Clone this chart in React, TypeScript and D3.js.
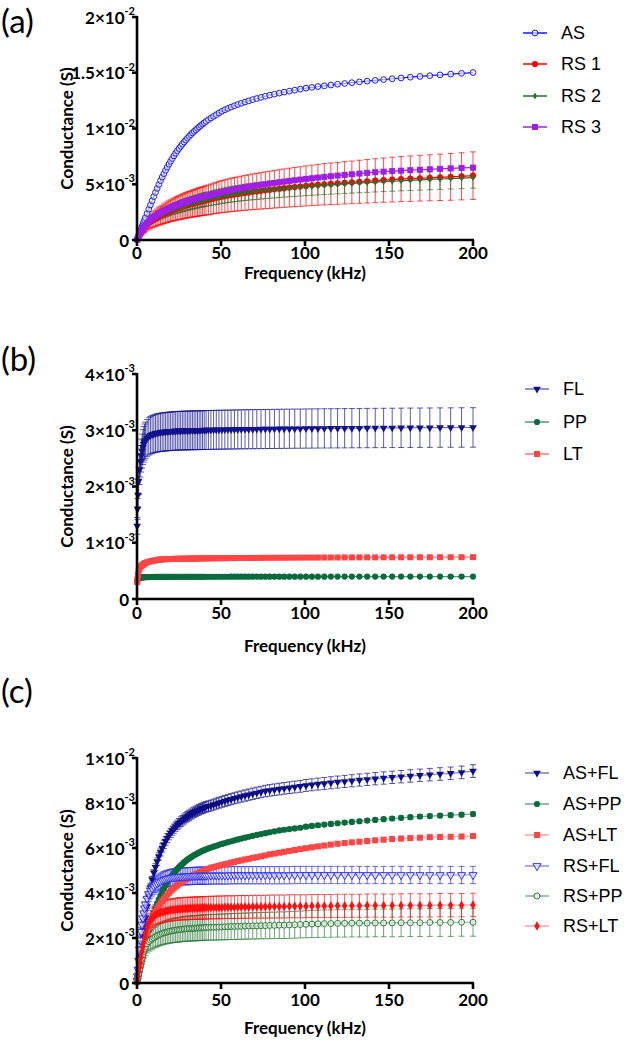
import React from 'react';
import * as d3 from 'd3';

// Frequency (kHz)
const FREQ = [0.1, 0.3, 0.6, 1, 1.5, 2, 2.5, 3, 3.5, 4,
  4.5, 5, 6, 7, 8, 9, 10, 11, 12, 13,
  14, 15, 16, 17, 18, 19, 20, 21, 22, 23,
  24, 25, 26, 27, 28, 29, 30, 31, 32, 33,
  34, 35, 36, 37, 38, 39, 40,
  41.1, 42.5, 44, 45.6, 47.2, 48.8, 50.5, 52.3, 54.1, 56,
  58, 60, 62.1, 64.3, 66.5, 68.9, 71.3, 73.8, 76.4, 79,
  81.8, 84.7, 87.6, 90.7, 93.9, 97.2, 100.6, 104.1, 107.7, 111.5,
  115.4, 119.4, 123.6, 127.9, 132.4, 137, 141.8, 146.8, 151.9, 157.2,
  162.7, 168.4, 174.3, 180.4, 186.7, 193.2, 200];

// Conductance values in mS (x10^-3 S)
const AS = [0.04, 0.12, 0.24, 0.4, 0.6, 0.8, 1.0, 1.2, 1.4, 1.6,
  1.8, 2.0, 2.38, 2.76, 3.14, 3.52, 3.9, 4.27, 4.63, 4.98,
  5.32, 5.64, 5.95, 6.25, 6.53, 6.8, 7.06, 7.31, 7.55, 7.78,
  8.0, 8.21, 8.41, 8.6, 8.78, 8.96, 9.13, 9.29, 9.45, 9.6,
  9.74, 9.88, 10.01, 10.14, 10.27, 10.39, 10.51,
  10.64, 10.79, 10.94, 11.09, 11.24, 11.39, 11.54, 11.68, 11.8, 11.92,
  12.04, 12.15, 12.26, 12.37, 12.48, 12.59, 12.69, 12.79, 12.89, 12.99,
  13.08, 13.17, 13.26, 13.35, 13.44, 13.53, 13.62, 13.69, 13.76, 13.83,
  13.9, 13.97, 14.04, 14.11, 14.18, 14.25, 14.32, 14.39, 14.46, 14.53,
  14.6, 14.67, 14.74, 14.81, 14.88, 14.95, 15.02];
const RS1 = [0.03, 0.1, 0.2, 0.32, 0.46, 0.6, 0.72, 0.84, 0.96, 1.06,
  1.15, 1.24, 1.4, 1.54, 1.66, 1.76, 1.85, 1.94, 2.03, 2.11,
  2.19, 2.27, 2.35, 2.42, 2.49, 2.56, 2.62, 2.68, 2.74, 2.8,
  2.85, 2.9, 2.95, 3.0, 3.05, 3.1, 3.14, 3.18, 3.22, 3.26,
  3.3, 3.34, 3.38, 3.42, 3.45, 3.48, 3.52,
  3.55, 3.6, 3.66, 3.72, 3.78, 3.84, 3.89, 3.94, 3.99, 4.04,
  4.09, 4.13, 4.18, 4.23, 4.27, 4.32, 4.36, 4.41, 4.46, 4.5,
  4.55, 4.6, 4.65, 4.7, 4.75, 4.8, 4.85, 4.9, 4.95, 5.0,
  5.04, 5.08, 5.13, 5.17, 5.22, 5.27, 5.32, 5.37, 5.42, 5.46,
  5.5, 5.54, 5.58, 5.62, 5.66, 5.71, 5.77];
const RS2 = [0.03, 0.1, 0.2, 0.32, 0.48, 0.64, 0.76, 0.88, 0.99, 1.1,
  1.2, 1.3, 1.47, 1.62, 1.75, 1.85, 1.94, 2.03, 2.12, 2.2,
  2.28, 2.36, 2.43, 2.5, 2.57, 2.64, 2.7, 2.76, 2.82, 2.87,
  2.92, 2.97, 3.02, 3.07, 3.12, 3.17, 3.22, 3.26, 3.3, 3.34,
  3.38, 3.42, 3.46, 3.5, 3.54, 3.57, 3.61,
  3.64, 3.69, 3.74, 3.79, 3.84, 3.89, 3.94, 3.99, 4.04, 4.09,
  4.14, 4.18, 4.23, 4.27, 4.31, 4.35, 4.39, 4.43, 4.47, 4.51,
  4.55, 4.59, 4.63, 4.67, 4.71, 4.75, 4.79, 4.83, 4.87, 4.91,
  4.95, 4.99, 5.03, 5.07, 5.11, 5.15, 5.19, 5.23, 5.27, 5.31,
  5.35, 5.39, 5.43, 5.47, 5.51, 5.55, 5.6];
const RS3 = [0.03, 0.1, 0.2, 0.33, 0.5, 0.66, 0.78, 0.9, 1.01, 1.12,
  1.23, 1.33, 1.52, 1.68, 1.82, 1.94, 2.05, 2.15, 2.25, 2.35,
  2.44, 2.53, 2.61, 2.69, 2.77, 2.84, 2.91, 2.97, 3.04, 3.1,
  3.16, 3.22, 3.28, 3.33, 3.38, 3.43, 3.48, 3.53, 3.58, 3.62,
  3.67, 3.71, 3.75, 3.79, 3.83, 3.87, 3.91,
  3.95, 4.0, 4.06, 4.12, 4.18, 4.24, 4.3, 4.36, 4.42, 4.48,
  4.54, 4.6, 4.66, 4.72, 4.78, 4.84, 4.9, 4.95, 5.0, 5.06,
  5.12, 5.18, 5.24, 5.3, 5.36, 5.42, 5.48, 5.54, 5.6, 5.66,
  5.72, 5.78, 5.84, 5.9, 5.96, 6.02, 6.08, 6.13, 6.18, 6.22,
  6.26, 6.3, 6.34, 6.38, 6.42, 6.46, 6.49];

const FL = [1.3, 1.6, 1.85, 2.1, 2.3, 2.45, 2.55, 2.63, 2.7, 2.75,
  2.79, 2.82, 2.86, 2.89, 2.91, 2.925, 2.935, 2.945, 2.952, 2.958,
  2.963, 2.967, 2.971, 2.974, 2.977, 2.98, 2.982, 2.984, 2.986, 2.988,
  2.99, 2.991, 2.992, 2.993, 2.994, 2.995, 2.996, 2.997, 2.998, 2.999,
  3.0, 3.0, 3.001, 3.001, 3.002, 3.002, 3.003,
  3.004, 3.005, 3.006, 3.007, 3.008, 3.009, 3.01, 3.011, 3.012, 3.013,
  3.014, 3.015, 3.016, 3.017, 3.018, 3.019, 3.02, 3.021, 3.022, 3.023,
  3.024, 3.025, 3.026, 3.027, 3.028, 3.029, 3.03, 3.031, 3.032, 3.033,
  3.034, 3.035, 3.036, 3.037, 3.038, 3.039, 3.04, 3.041, 3.042, 3.043,
  3.044, 3.045, 3.046, 3.047, 3.048, 3.049, 3.05];
const PP = [0.31, 0.34, 0.36, 0.37, 0.375, 0.38, 0.383, 0.385, 0.386, 0.387,
  0.388, 0.389, 0.39, 0.39, 0.391, 0.391, 0.392, 0.392, 0.392, 0.393,
  0.393, 0.393, 0.393, 0.394, 0.394, 0.394, 0.394, 0.394, 0.395, 0.395,
  0.395, 0.395, 0.395, 0.395, 0.395, 0.395, 0.395, 0.395, 0.395, 0.395,
  0.396, 0.396, 0.396, 0.396, 0.396, 0.396, 0.396,
  0.396, 0.396, 0.396, 0.396, 0.396, 0.396, 0.396, 0.396, 0.396, 0.397,
  0.397, 0.397, 0.397, 0.397, 0.397, 0.397, 0.397, 0.397, 0.397, 0.397,
  0.397, 0.397, 0.397, 0.397, 0.397, 0.397, 0.397, 0.397, 0.397, 0.397,
  0.398, 0.398, 0.398, 0.398, 0.398, 0.398, 0.398, 0.398, 0.398, 0.398,
  0.398, 0.398, 0.398, 0.398, 0.398, 0.398, 0.398];
const LT = [0.3, 0.36, 0.43, 0.5, 0.54, 0.57, 0.585, 0.6, 0.61, 0.62,
  0.63, 0.64, 0.652, 0.662, 0.67, 0.676, 0.682, 0.688, 0.694, 0.699,
  0.702, 0.705, 0.707, 0.708, 0.709, 0.71, 0.711, 0.712, 0.713, 0.714,
  0.714, 0.715, 0.715, 0.716, 0.716, 0.717, 0.717, 0.718, 0.718, 0.719,
  0.719, 0.72, 0.72, 0.721, 0.721, 0.722, 0.722,
  0.723, 0.723, 0.724, 0.724, 0.725, 0.725, 0.726, 0.726, 0.727, 0.727,
  0.728, 0.728, 0.729, 0.729, 0.73, 0.73, 0.731, 0.731, 0.732, 0.732,
  0.733, 0.733, 0.734, 0.734, 0.735, 0.735, 0.736, 0.736, 0.737, 0.737,
  0.738, 0.738, 0.739, 0.739, 0.74, 0.74, 0.74, 0.741, 0.741, 0.741,
  0.742, 0.742, 0.742, 0.743, 0.743, 0.743, 0.744];

const AS_FL = [0.06, 0.18, 0.36, 0.6, 0.9, 1.2, 1.5, 1.8, 2.08, 2.35,
  2.63, 2.9, 3.4, 3.85, 4.25, 4.6, 4.9, 5.15, 5.4, 5.62,
  5.82, 6.0, 6.16, 6.31, 6.44, 6.56, 6.67, 6.77, 6.86, 6.95,
  7.03, 7.1, 7.17, 7.23, 7.29, 7.35, 7.4, 7.45, 7.5, 7.55,
  7.59, 7.63, 7.67, 7.7, 7.74, 7.77, 7.8,
  7.83, 7.86, 7.89, 7.93, 7.97, 8.01, 8.05, 8.09, 8.13, 8.17,
  8.21, 8.25, 8.29, 8.33, 8.37, 8.41, 8.45, 8.49, 8.53, 8.56,
  8.59, 8.62, 8.65, 8.68, 8.71, 8.74, 8.78, 8.81, 8.84, 8.87,
  8.9, 8.93, 8.96, 8.99, 9.02, 9.05, 9.08, 9.11, 9.14, 9.17,
  9.2, 9.23, 9.26, 9.29, 9.32, 9.36, 9.42];
const AS_PP = [0.03, 0.1, 0.2, 0.34, 0.5, 0.68, 0.85, 1.02, 1.19, 1.36,
  1.53, 1.7, 2.03, 2.34, 2.62, 2.88, 3.12, 3.34, 3.54, 3.72,
  3.89, 4.05, 4.2, 4.34, 4.47, 4.59, 4.7, 4.8, 4.9, 4.99,
  5.07, 5.15, 5.22, 5.29, 5.36, 5.42, 5.48, 5.53, 5.58, 5.63,
  5.68, 5.72, 5.76, 5.8, 5.84, 5.87, 5.91,
  5.94, 5.98, 6.02, 6.06, 6.1, 6.14, 6.18, 6.22, 6.26, 6.3,
  6.34, 6.38, 6.42, 6.46, 6.5, 6.54, 6.58, 6.62, 6.66, 6.7,
  6.74, 6.78, 6.81, 6.84, 6.87, 6.9, 6.95, 6.98, 7.01, 7.04,
  7.07, 7.1, 7.13, 7.16, 7.19, 7.22, 7.25, 7.28, 7.31, 7.34,
  7.37, 7.4, 7.42, 7.44, 7.46, 7.48, 7.51];
const AS_LT = [0.04, 0.12, 0.24, 0.4, 0.6, 0.8, 0.99, 1.18, 1.37, 1.56,
  1.73, 1.9, 2.2, 2.46, 2.68, 2.87, 3.03, 3.17, 3.3, 3.42,
  3.53, 3.64, 3.74, 3.84, 3.93, 4.01, 4.09, 4.16, 4.23, 4.29,
  4.35, 4.41, 4.46, 4.51, 4.56, 4.61, 4.65, 4.69, 4.73, 4.77,
  4.8, 4.84, 4.87, 4.9, 4.93, 4.96, 4.99,
  5.05, 5.08, 5.12, 5.15, 5.18, 5.21, 5.24, 5.28, 5.31, 5.35,
  5.38, 5.42, 5.45, 5.49, 5.52, 5.56, 5.59, 5.63, 5.67, 5.72,
  5.75, 5.79, 5.83, 5.87, 5.91, 5.95, 5.99, 6.03, 6.07, 6.11,
  6.15, 6.19, 6.22, 6.25, 6.28, 6.31, 6.34, 6.37, 6.4, 6.42,
  6.44, 6.46, 6.48, 6.49, 6.5, 6.51, 6.53];
const RS_FL = [0.1, 0.3, 0.6, 1.0, 1.5, 1.9, 2.28, 2.6, 2.88, 3.1,
  3.32, 3.5, 3.75, 3.95, 4.1, 4.2, 4.29, 4.37, 4.43, 4.48,
  4.52, 4.56, 4.59, 4.62, 4.64, 4.66, 4.68, 4.69, 4.7, 4.71,
  4.72, 4.72, 4.73, 4.73, 4.74, 4.74, 4.75, 4.75, 4.75, 4.76,
  4.76, 4.76, 4.77, 4.77, 4.77, 4.77, 4.77,
  4.77, 4.77, 4.78, 4.78, 4.78, 4.78, 4.78, 4.78, 4.78, 4.79,
  4.79, 4.79, 4.79, 4.79, 4.79, 4.79, 4.79, 4.79, 4.79, 4.79,
  4.79, 4.79, 4.79, 4.79, 4.8, 4.8, 4.8, 4.8, 4.8, 4.8,
  4.8, 4.8, 4.8, 4.8, 4.8, 4.8, 4.8, 4.8, 4.8, 4.8,
  4.8, 4.8, 4.8, 4.8, 4.8, 4.8, 4.8];
const RS_PP = [0.04, 0.12, 0.25, 0.4, 0.6, 0.8, 0.95, 1.1, 1.25, 1.4,
  1.5, 1.6, 1.74, 1.84, 1.9, 1.96, 2.01, 2.06, 2.1, 2.14,
  2.17, 2.2, 2.23, 2.25, 2.27, 2.29, 2.31, 2.32, 2.34, 2.35,
  2.36, 2.37, 2.38, 2.39, 2.4, 2.41, 2.41, 2.42, 2.42, 2.43,
  2.43, 2.44, 2.44, 2.45, 2.45, 2.46, 2.46,
  2.47, 2.47, 2.48, 2.48, 2.48, 2.49, 2.49, 2.5, 2.5, 2.51,
  2.51, 2.52, 2.52, 2.53, 2.53, 2.54, 2.54, 2.55, 2.55, 2.56,
  2.56, 2.57, 2.57, 2.58, 2.59, 2.6, 2.61, 2.62, 2.63, 2.64,
  2.64, 2.65, 2.65, 2.66, 2.66, 2.66, 2.67, 2.67, 2.67, 2.68,
  2.68, 2.68, 2.69, 2.69, 2.69, 2.7, 2.7];
const RS_LT = [0.05, 0.15, 0.3, 0.5, 0.7, 0.9, 1.15, 1.4, 1.6, 1.8,
  2.0, 2.2, 2.48, 2.68, 2.8, 2.9, 2.97, 3.03, 3.07, 3.1,
  3.13, 3.15, 3.17, 3.19, 3.21, 3.22, 3.24, 3.25, 3.26, 3.27,
  3.28, 3.29, 3.29, 3.3, 3.3, 3.31, 3.31, 3.31, 3.32, 3.32,
  3.32, 3.33, 3.33, 3.33, 3.33, 3.34, 3.34,
  3.34, 3.35, 3.35, 3.35, 3.36, 3.36, 3.36, 3.37, 3.37, 3.37,
  3.37, 3.38, 3.38, 3.38, 3.38, 3.39, 3.39, 3.39, 3.39, 3.4,
  3.4, 3.4, 3.4, 3.41, 3.41, 3.41, 3.41, 3.42, 3.42, 3.42,
  3.42, 3.43, 3.43, 3.43, 3.43, 3.44, 3.44, 3.44, 3.44, 3.45,
  3.45, 3.45, 3.45, 3.46, 3.46, 3.46, 3.47];

// Relative SD (error bar half-length / mean)
const CV_A = [0, 0.37, 0.17, 0.03];
const CV_B = [0.115, 0.02, 0.02];
const CV_C = [0.03, 0.012, 0.015, 0.08, 0.23, 0.15];

const NAMES_A = ['AS', 'RS 1', 'RS 2', 'RS 3'];
const NAMES_B = ['FL', 'PP', 'LT'];
const NAMES_C = ['AS+FL', 'AS+PP', 'AS+LT', 'RS+FL', 'RS+PP', 'RS+LT'];

const X_TICKS = [0, 50, 100, 150, 200];
const Y_TICKS_A = [0, 5, 10, 15, 20];
const Y_LABELS_A: [string, string][] = [['0', ''], ['5', '-3'], ['1', '-2'], ['1.5', '-2'], ['2', '-2']];
const Y_TICKS_B = [0, 1, 2, 3, 4];
const Y_LABELS_B: [string, string][] = [['0', ''], ['1', '-3'], ['2', '-3'], ['3', '-3'], ['4', '-3']];
const Y_TICKS_C = [0, 2, 4, 6, 8, 10];
const Y_LABELS_C: [string, string][] = [['0', ''], ['2', '-3'], ['4', '-3'], ['6', '-3'], ['8', '-3'], ['1', '-2']];

type Marker = 'circle' | 'square' | 'down' | 'diamond';
type Style = { color: string; lineOpacity: number; marker: Marker; filled: boolean; size: number };

const STYLE_A: Style[] = [
  { color: '#1515ff', lineOpacity: 1, marker: 'circle', filled: false, size: 26 },
  { color: '#ff0000', lineOpacity: 1, marker: 'circle', filled: true, size: 30 },
  { color: '#2d6e2d', lineOpacity: 1, marker: 'diamond', filled: true, size: 14 },
  { color: '#a01fe6', lineOpacity: 1, marker: 'square', filled: true, size: 36 },
];
const STYLE_B: Style[] = [
  { color: '#12128c', lineOpacity: 0.6, marker: 'down', filled: true, size: 26 },
  { color: '#0b6b3e', lineOpacity: 0.7, marker: 'circle', filled: true, size: 30 },
  { color: '#ff4545', lineOpacity: 0.7, marker: 'square', filled: true, size: 36 },
];
const STYLE_C: Style[] = [
  { color: '#0d0d86', lineOpacity: 0.55, marker: 'down', filled: true, size: 26 },
  { color: '#0b6b3e', lineOpacity: 0.6, marker: 'circle', filled: true, size: 30 },
  { color: '#ff4545', lineOpacity: 0.5, marker: 'square', filled: true, size: 36 },
  { color: '#2b2bff', lineOpacity: 0.55, marker: 'down', filled: false, size: 28 },
  { color: '#2e7a3a', lineOpacity: 0.6, marker: 'circle', filled: false, size: 28 },
  { color: '#ff1010', lineOpacity: 0.4, marker: 'diamond', filled: true, size: 26 },
];

const X0 = 137;
const X1 = 473;

function symPath(m: Marker, size: number) {
  const t = m === 'circle' ? d3.symbolCircle : m === 'square' ? d3.symbolSquare : m === 'diamond' ? d3.symbolDiamond : d3.symbolTriangle;
  return d3.symbol().type(t).size(size)() as string;
}

function MarkerShape({ st, x, y }: { st: Style; x: number; y: number }) {
  const rot = st.marker === 'down' ? ' rotate(180)' : '';
  return (
    <path
      d={symPath(st.marker, st.size)}
      transform={`translate(${x},${y})${rot}`}
      fill={st.filled ? st.color : '#ffffff'}
      fillOpacity={st.filled ? 1 : 0.6}
      stroke={st.color}
      strokeWidth={st.filled ? 0 : 1}
    />
  );
}

type PanelProps = {
  label: string; labelY: number;
  top: number; bottom: number; yMax: number;
  yTicks: number[]; yLabels: [string, string][];
  series: number[][]; names: string[]; styles: Style[]; cvs: number[];
  legendY: number[]; legendX: number;
  xLabelY: number; titleY: number;
};

const FONT = 'Lato, "Open Sans", sans-serif';

function Panel(p: PanelProps) {
  const x = d3.scaleLinear().domain([0, 200]).range([X0, X1]);
  const y = d3.scaleLinear().domain([0, p.yMax]).range([p.bottom, p.top]);
  const line = d3.line<number>().x((_, i) => x(FREQ[i])).y((d) => y(d));
  const order = p.series.map((_, i) => i);
  return (
    <g>
      <text x={1} y={p.labelY} fontFamily={FONT} fontSize={33} dominantBaseline="central">{p.label}</text>
      {order.map((si) => {
        const st = p.styles[si];
        const cv = p.cvs[si];
        if (!cv) return null;
        return (
          <g key={'e' + si} stroke={st.color} strokeWidth={1} strokeOpacity={0.7} fill="none">
            {p.series[si].map((v, i) => {
              const xi = x(FREQ[i]);
              const y1 = y(v * (1 + cv));
              const y2 = y(v * (1 - cv));
              return (
                <path key={i} d={`M${xi},${y1}V${y2}M${xi - 3},${y1}H${xi + 3}M${xi - 3},${y2}H${xi + 3}`} />
              );
            })}
          </g>
        );
      })}
      {order.map((si) => {
        const st = p.styles[si];
        return (
          <g key={'s' + si}>
            <path d={line(p.series[si]) as string} fill="none" stroke={st.color} strokeOpacity={st.lineOpacity} strokeWidth={1.2} />
            {p.series[si].map((v, i) => (
              <MarkerShape key={i} st={st} x={x(FREQ[i])} y={y(v)} />
            ))}
          </g>
        );
      })}
      <g stroke="#000" strokeWidth={2.6} fill="none">
        <path d={`M${X0},${p.top - 1}V${p.bottom}`} />
        <path d={`M${X0 - 1.3},${p.bottom}H${X1 + 1}`} />
        {p.yTicks.map((t) => (
          <path key={'yt' + t} d={`M${X0 - 5},${y(t)}H${X0}`} />
        ))}
        {X_TICKS.map((t) => (
          <path key={'xt' + t} d={`M${x(t)},${p.bottom}V${p.bottom + 6}`} />
        ))}
      </g>
      {p.yTicks.map((t, i) => {
        const [m, e] = p.yLabels[i];
        return (
          <text key={'yl' + t} x={e ? 135 : 129} y={y(t)} textAnchor="end" dominantBaseline="central"
            fontFamily={FONT} fontWeight="bold" fontSize={17}>
            {m}
            {e ? '×10' : ''}
            {e ? <tspan dy={-7} fontSize={11}>{e}</tspan> : null}
          </text>
        );
      })}
      {X_TICKS.map((t) => (
        <text key={'xl' + t} x={x(t)} y={p.xLabelY} textAnchor="middle" dominantBaseline="central"
          fontFamily={FONT} fontWeight="bold" fontSize={17}>{t}</text>
      ))}
      <text x={(X0 + X1) / 2} y={p.titleY} textAnchor="middle" dominantBaseline="central"
        fontFamily={FONT} fontWeight="bold" fontSize={17}>Frequency (kHz)</text>
      <text transform={`translate(66,${(p.top + p.bottom) / 2}) rotate(-90)`} textAnchor="middle" dominantBaseline="central"
        fontFamily={FONT} fontWeight="bold" fontSize={17}>Conductance (S)</text>
      {p.names.map((n, i) => {
        const st = p.styles[i];
        const ly = p.legendY[i];
        return (
          <g key={'lg' + i}>
            <path d={`M${p.legendX},${ly}H${p.legendX + 24}`} stroke={st.color} strokeOpacity={st.lineOpacity} strokeWidth={1.5} />
            <MarkerShape st={st} x={p.legendX + 12} y={ly} />
            <text x={p.legendX + 38} y={ly} dominantBaseline="central" fontFamily='"Liberation Sans", Arial, sans-serif' fontSize={18}>{n}</text>
          </g>
        );
      })}
    </g>
  );
}

export default function App() {
  return (
    <svg width={625} height={1043} style={{ position: 'absolute', left: 0, top: 0, background: '#fff' }}>
      <rect width={625} height={1043} fill="#fff" />
      <Panel label="(a)" labelY={20} top={17} bottom={240} yMax={20}
        yTicks={Y_TICKS_A} yLabels={Y_LABELS_A}
        series={[AS, RS1, RS2, RS3]} names={NAMES_A} styles={STYLE_A} cvs={CV_A}
        legendY={[33, 64, 96, 127]} legendX={523} xLabelY={252} titleY={272} />
      <Panel label="(b)" labelY={358} top={374} bottom={599} yMax={4}
        yTicks={Y_TICKS_B} yLabels={Y_LABELS_B}
        series={[FL, PP, LT]} names={NAMES_B} styles={STYLE_B} cvs={CV_B}
        legendY={[389, 422, 454]} legendX={525} xLabelY={612} titleY={645} />
      <Panel label="(c)" labelY={690} top={758} bottom={983} yMax={10}
        yTicks={Y_TICKS_C} yLabels={Y_LABELS_C}
        series={[AS_FL, AS_PP, AS_LT, RS_FL, RS_PP, RS_LT]} names={NAMES_C} styles={STYLE_C} cvs={CV_C}
        legendY={[773, 804, 835, 866, 896, 926]} legendX={525} xLabelY={999} titleY={1027} />
    </svg>
  );
}
